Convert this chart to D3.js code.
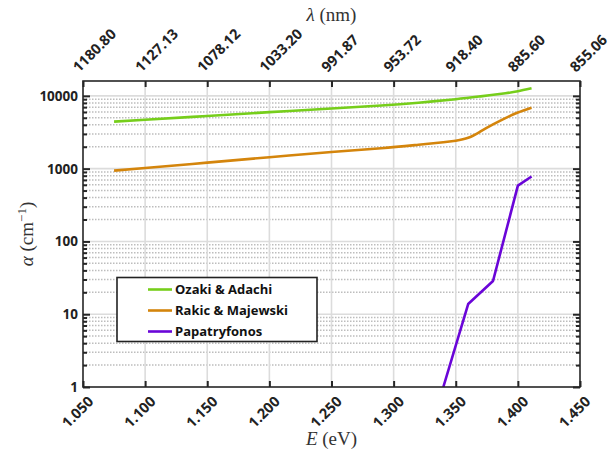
<!DOCTYPE html>
<html><head><meta charset="utf-8">
<script src="https://cdn.jsdelivr.net/npm/d3@7"></script>
<style>body{margin:0;background:#fff}</style>
</head><body>
<svg id="c" width="611" height="454"></svg>
<script>
// ---- data ----
const xTicks = [1.05, 1.10, 1.15, 1.20, 1.25, 1.30, 1.35, 1.40, 1.45];
const xTickLabels = ["1.050","1.100","1.150","1.200","1.250","1.300","1.350","1.400","1.450"];
const topTickLabels = ["1180.80","1127.13","1078.12","1033.20","991.87","953.72","918.40","885.60","855.06"];
const yTicks = [1, 10, 100, 1000, 10000];
const yTickLabels = ["1","10","100","1000","10000"];
const seriesNames = ["Ozaki & Adachi", "Rakic & Majewski", "Papatryfonos"];
const seriesColors = ["#76CE1B", "#D4850C", "#6A05D8"];

const ozakiE = [1.075, 1.10, 1.15, 1.20, 1.25, 1.29, 1.32, 1.35, 1.37, 1.39, 1.40, 1.411];
const ozakiA = [4430, 4700, 5300, 5970, 6700, 7360, 8050, 9000, 9850, 10850, 11550, 12700];
const rakicE = [1.075, 1.10, 1.15, 1.20, 1.25, 1.29, 1.32, 1.34, 1.35, 1.36, 1.37, 1.38, 1.39, 1.40, 1.411];
const rakicA = [940, 1020, 1210, 1437, 1690, 1910, 2130, 2300, 2420, 2650, 3250, 4050, 4950, 5900, 6870];
const papE = [1.34, 1.36, 1.38, 1.40, 1.411];
const papA = [1.0, 13.8, 28.6, 585, 780];

// ---- layout ----
const svg = d3.select("#c");
const L = 83, R = 580, T = 81, B = 387;
const x = d3.scaleLinear().domain([1.05, 1.45]).range([L, R]);
const y = d3.scaleLog().domain([1, 16000]).range([B, T]);
const tickFont = "'Open Sans', Lato, sans-serif";
const serif = "'Liberation Serif', 'DejaVu Serif', serif";

svg.append("defs").append("clipPath").attr("id","clip")
  .append("rect").attr("x",L).attr("y",T).attr("width",R-L).attr("height",B-T);

// minor grid (dotted)
const minorVals = [];
for (let d = 1; d < 16000; d *= 10) for (let k = 2; k <= 9; k++) if (d*k < 16000) minorVals.push(d*k);
const gMinor = svg.append("g");
gMinor.selectAll("line").data(minorVals).enter().append("line")
  .attr("x1",L).attr("x2",R).attr("y1",d=>y(d)).attr("y2",d=>y(d))
  .attr("stroke","#bdbdbd").attr("stroke-width",1.5).attr("stroke-dasharray","1.5,1.5");
// major grid
const gMajor = svg.append("g");
gMajor.selectAll("line.h").data(yTicks.slice(1)).enter().append("line")
  .attr("x1",L).attr("x2",R).attr("y1",d=>y(d)).attr("y2",d=>y(d))
  .attr("stroke","#dcdcdc").attr("stroke-width",1.6);
gMajor.selectAll("line.v").data(xTicks.slice(1,-1)).enter().append("line")
  .attr("x1",d=>x(d)).attr("x2",d=>x(d)).attr("y1",T).attr("y2",B)
  .attr("stroke","#dcdcdc").attr("stroke-width",1.6);

// series
const line = d3.line().x(d=>x(d[0])).y(d=>y(d[1]));
const gLines = svg.append("g").attr("clip-path","url(#clip)");
gLines.append("path").datum(d3.zip(ozakiE, ozakiA)).attr("d", line.curve(d3.curveNatural))
  .attr("fill","none").attr("stroke",seriesColors[0]).attr("stroke-width",2.6);
gLines.append("path").datum(d3.zip(rakicE, rakicA)).attr("d", line.curve(d3.curveNatural))
  .attr("fill","none").attr("stroke",seriesColors[1]).attr("stroke-width",2.6);
gLines.append("path").datum(d3.zip(papE, papA)).attr("d", line.curve(d3.curveLinear))
  .attr("fill","none").attr("stroke",seriesColors[2]).attr("stroke-width",2.6).attr("stroke-linejoin","round");

// axes via d3 axis generators (ticks inward)
const axisColor = "#262626";
function styleAxis(g){
  g.select(".domain").remove();
  g.selectAll(".tick line").attr("stroke",axisColor).attr("stroke-width",2);
  g.selectAll(".tick text").remove();
}
svg.append("g").attr("transform",`translate(0,${B})`)
  .call(d3.axisBottom(x).tickValues(xTicks).tickSize(-6)).call(styleAxis);
svg.append("g").attr("transform",`translate(0,${T})`)
  .call(d3.axisTop(x).tickValues(xTicks).tickSize(-6)).call(styleAxis);
svg.append("g").attr("transform",`translate(${L},0)`)
  .call(d3.axisLeft(y).tickValues(yTicks).tickSize(-7)).call(styleAxis);
svg.append("g").attr("transform",`translate(${L},0)`)
  .call(d3.axisLeft(y).tickValues(minorVals).tickSize(-4)).call(styleAxis);
svg.append("g").attr("transform",`translate(${R},0)`)
  .call(d3.axisRight(y).tickValues(yTicks).tickSize(-7)).call(styleAxis);
svg.append("g").attr("transform",`translate(${R},0)`)
  .call(d3.axisRight(y).tickValues(minorVals).tickSize(-4)).call(styleAxis);

// frame
svg.append("rect").attr("x",L).attr("y",T).attr("width",R-L).attr("height",B-T)
  .attr("fill","none").attr("stroke",axisColor).attr("stroke-width",1.6);

// tick labels
svg.append("g").selectAll("text").data(xTicks).enter().append("text")
  .attr("transform",(d)=>`translate(${x(d)+4},${B+8}) rotate(-45)`)
  .attr("text-anchor","end").attr("dy","0.72em")
  .attr("font-family",tickFont).attr("font-weight","bold").attr("font-size",14.5).attr("fill","#222")
  .text((d,i)=>xTickLabels[i]);
svg.append("g").selectAll("text").data(xTicks).enter().append("text")
  .attr("transform",(d)=>`translate(${x(d)-4},${T-8}) rotate(-45)`)
  .attr("text-anchor","start")
  .attr("font-family",tickFont).attr("font-weight","bold").attr("font-size",14.5).attr("fill","#222")
  .text((d,i)=>topTickLabels[i]);
svg.append("g").selectAll("text").data(yTicks).enter().append("text")
  .attr("x",L-5).attr("y",d=>y(d)).attr("dy","0.36em").attr("text-anchor","end")
  .attr("font-family",tickFont).attr("font-weight","bold").attr("font-size",13.5).attr("fill","#222")
  .text((d,i)=>yTickLabels[i]);

// axis titles
const cx = (L+R)/2;
const tt = svg.append("text").attr("x",cx).attr("y",21).attr("text-anchor","middle")
  .attr("font-family",serif).attr("font-size",19).attr("fill","#333");
tt.append("tspan").attr("font-style","italic").text("λ");
tt.append("tspan").text(" (nm)");
const bt = svg.append("text").attr("x",cx).attr("y",445).attr("text-anchor","middle")
  .attr("font-family",serif).attr("font-size",19).attr("fill","#333");
bt.append("tspan").attr("font-style","italic").text("E");
bt.append("tspan").text(" (eV)");
const yt = svg.append("text").attr("transform",`translate(33,${(T+B)/2}) rotate(-90)`)
  .attr("text-anchor","middle").attr("font-family",serif).attr("font-size",19).attr("fill","#333");
yt.append("tspan").attr("font-style","italic").text("α");
yt.append("tspan").text(" (cm");
yt.append("tspan").attr("font-size",13).attr("dy",-7).text("−1");
yt.append("tspan").attr("dy",7).text(")");

// legend
const lg = svg.append("g");
lg.append("rect").attr("x",117).attr("y",277.5).attr("width",200).attr("height",64)
  .attr("fill","#fff").attr("stroke","#222").attr("stroke-width",1.6);
const rows = lg.selectAll("g.r").data(seriesNames).enter().append("g")
  .attr("transform",(d,i)=>`translate(0,${289.5 + i*21})`);
rows.append("line").attr("x1",148).attr("x2",172).attr("y1",0).attr("y2",0)
  .attr("stroke",(d,i)=>seriesColors[i]).attr("stroke-width",2.6);
rows.append("text").attr("x",175).attr("dy","0.35em")
  .attr("font-family",tickFont).attr("font-weight","bold").attr("font-size",13).attr("fill","#111")
  .text(d=>d);
</script>
</body></html>
